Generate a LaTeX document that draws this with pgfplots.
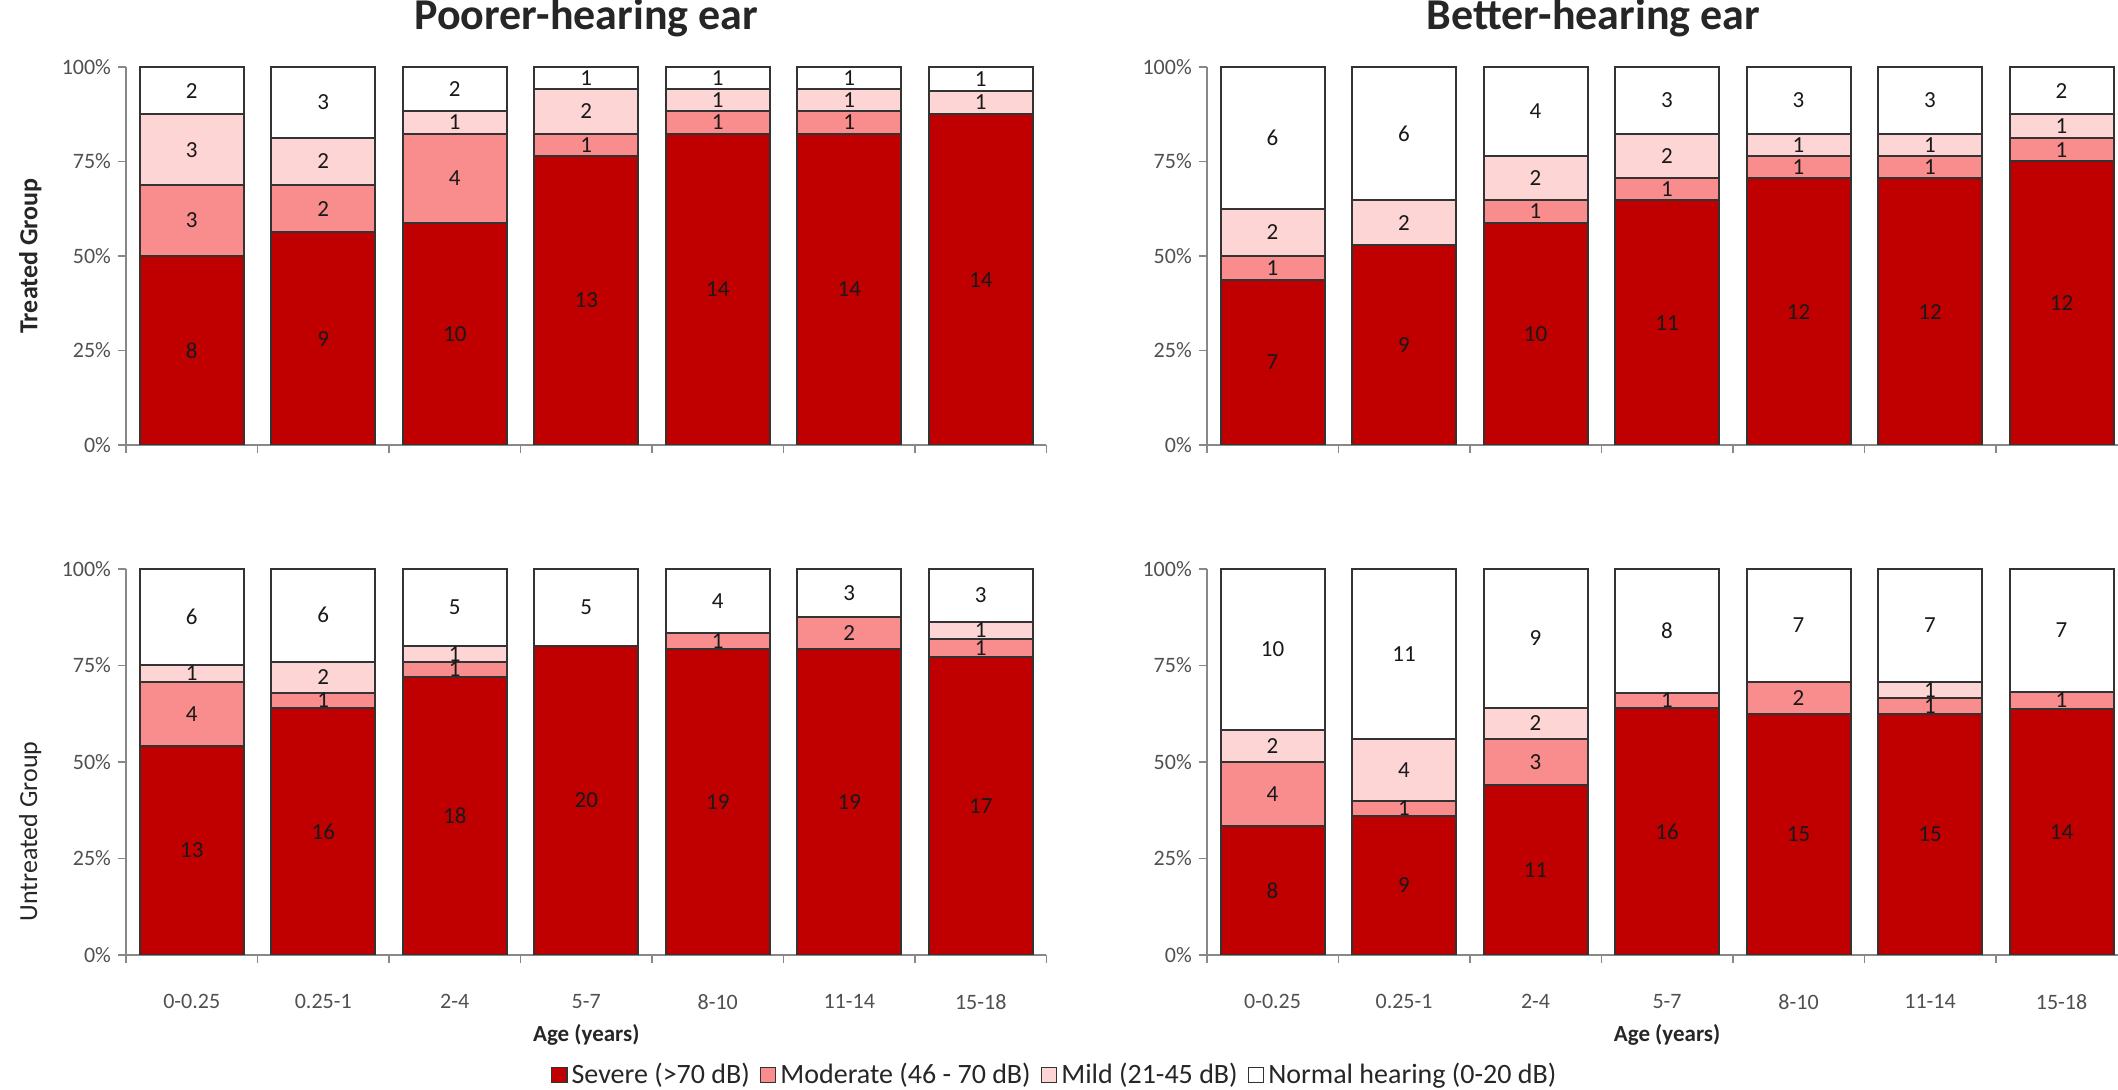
\documentclass[border=0pt]{standalone}
\usepackage{fontspec}
\setmainfont{Carlito}
\usepackage{pgfplots}
\pgfplotsset{compat=1.18}
\usepackage{pgfplotstable}

\definecolor{cSev}{HTML}{C00000}
\definecolor{cMod}{HTML}{F98C8C}
\definecolor{cMild}{HTML}{FDD5D5}
\definecolor{axgray}{HTML}{888888}
\definecolor{txtgray}{HTML}{505050}

% counts per age group: severe, moderate, mild, normal
\pgfplotstableread{
x sev mod mild norm
0 8  3 3 2
1 9  2 2 3
2 10 4 1 2
3 13 1 2 1
4 14 1 1 1
5 14 1 1 1
6 14 0 1 1
}\poorT
\pgfplotstableread{
x sev mod mild norm
0 7  1 2 6
1 9  0 2 6
2 10 1 2 4
3 11 1 2 3
4 12 1 1 3
5 12 1 1 3
6 12 1 1 2
}\betterT
\pgfplotstableread{
x sev mod mild norm
0 13 4 1 6
1 16 1 2 6
2 18 1 1 5
3 20 0 0 5
4 19 1 0 4
5 19 2 0 3
6 17 1 1 3
}\poorU
\pgfplotstableread{
x sev mod mild norm
0 8  4 2 10
1 9  1 4 11
2 11 3 2 9
3 16 1 0 8
4 15 2 0 7
5 15 1 1 7
6 14 1 0 7
}\betterU

\newcommand{\tot}{(\thisrow{sev}+\thisrow{mod}+\thisrow{mild}+\thisrow{norm})}
\newcommand{\stackbars}[1]{%
  \addplot[fill=cSev] table[x=x, y expr=\thisrow{sev}/\tot*100]{#1};
  \addplot[fill=cMod] table[x=x, y expr=\thisrow{mod}/\tot*100]{#1};
  \addplot[fill=cMild] table[x=x, y expr=\thisrow{mild}/\tot*100]{#1};
  \addplot[fill=white] table[x=x, y expr=\thisrow{norm}/\tot*100]{#1};
}
% count labels, centred in each segment
\newcommand{\labelbars}[1]{%
  \addplot[cnt] table[x=x, y expr=\thisrow{sev}/2/\tot*100, meta=sev]{#1};
  \addplot[cnt] table[x=x, y expr=(\thisrow{sev}+\thisrow{mod}/2)/\tot*100, meta=mod]{#1};
  \addplot[cnt] table[x=x, y expr=(\thisrow{sev}+\thisrow{mod}+\thisrow{mild}/2)/\tot*100, meta=mild]{#1};
  \addplot[cnt] table[x=x, y expr=(\tot-\thisrow{norm}/2)/\tot*100, meta=norm]{#1};
}

\pgfplotsset{
  panel/.style={
    scale only axis, width=460.25pt,
    xmin=-0.5, xmax=6.5, ymin=0, ymax=100, enlargelimits=false,
  },
  hearbar/.style={
    panel,
    ybar stacked, bar width=0.79,
    axis x line*=bottom, axis y line*=left,
    axis line style={axgray, line width=0.8pt},
    ytick={0,25,50,75,100}, yticklabels={0\%,25\%,50\%,75\%,100\%},
    yticklabel style={font=\fontsize{11}{13}\selectfont, text=txtgray},
    xtick={0,...,6}, major x tick style={draw=none},
    minor xtick={-0.5,0.5,...,6.5},
    tick align=outside, tick style={axgray, line width=0.8pt},
    major tick length=4pt, minor tick length=4pt,
    xticklabel style={font=\fontsize{11}{13}\selectfont, text=txtgray, yshift=-12pt},
    every axis plot/.append style={draw=black!80, line width=1pt},
    title style={font=\bfseries\fontsize{22}{26}\selectfont, text=black!85, anchor=center, yshift=18.5pt},
    ylabel style={at={(axis description cs:-0.104,0.5)}, anchor=center,
      font=\fontsize{13}{15}\selectfont, text=black!85},
    xlabel style={at={(axis description cs:0.5,0)}, anchor=center, yshift=-40pt,
      font=\bfseries\fontsize{11.5}{13}\selectfont, text=black!85},
  },
  countlabels/.style={panel, axis lines=none, ticks=none},
  cnt/.style={draw=none, mark=none, point meta=explicit,
    nodes near coords={\pgfmathfloatifflags{\pgfplotspointmeta}{0}{}{\pgfmathprintnumber[assume math mode=true]{\pgfplotspointmeta}}},
    every node near coord/.style={font=\fontsize{11.5}{13}\selectfont, text=black!90, anchor=center}},
}

\begin{document}
\begin{tikzpicture}
\useasboundingbox (0,0) rectangle (1059pt,545pt);

\begin{axis}[hearbar, at={(63pt,322.5pt)}, anchor=south west, height=189pt,
  xticklabels={}, title={Poorer-hearing ear}, title style={at={(0.5,1)}},
  ylabel={\bfseries Treated Group}]
  \stackbars{\poorT}
\end{axis}
\begin{axis}[countlabels, at={(63pt,322.5pt)}, anchor=south west, height=189pt]
  \labelbars{\poorT}
\end{axis}

\begin{axis}[hearbar, at={(603.4pt,322.5pt)}, anchor=south west, height=189pt,
  xticklabels={}, title={Better-hearing ear}, title style={at={(0.42,1)}}]
  \stackbars{\betterT}
\end{axis}
\begin{axis}[countlabels, at={(603.4pt,322.5pt)}, anchor=south west, height=189pt]
  \labelbars{\betterT}
\end{axis}

\begin{axis}[hearbar, at={(63pt,67.5pt)}, anchor=south west, height=193pt,
  xticklabels={0-0.25,0.25-1,2-4,5-7,8-10,11-14,15-18},
  xlabel={Age (years)},
  ylabel={Untreated Group}, ylabel style={at={(axis description cs:-0.104,0.32)}},
  legend columns=4,
  legend style={at={(1.01,-0.311)}, anchor=center, draw=none, fill=none,
    font=\fontsize{14}{16}\selectfont, text=black!85,
    /tikz/every even column/.append style={column sep=3pt}},
  legend image code/.code={\draw[#1, line width=0.7pt] (0pt,-3.8pt) rectangle (7.6pt,3.8pt);}]
  \stackbars{\poorU}
  \legend{Severe (>70 dB),Moderate (46 - 70 dB),Mild (21-45 dB),Normal hearing (0-20 dB)}
\end{axis}
\begin{axis}[countlabels, at={(63pt,67.5pt)}, anchor=south west, height=193pt]
  \labelbars{\poorU}
\end{axis}

\begin{axis}[hearbar, at={(603.4pt,67.5pt)}, anchor=south west, height=193pt,
  xticklabels={0-0.25,0.25-1,2-4,5-7,8-10,11-14,15-18},
  xlabel={Age (years)}]
  \stackbars{\betterU}
\end{axis}
\begin{axis}[countlabels, at={(603.4pt,67.5pt)}, anchor=south west, height=193pt]
  \labelbars{\betterU}
\end{axis}
\end{tikzpicture}
\end{document}
